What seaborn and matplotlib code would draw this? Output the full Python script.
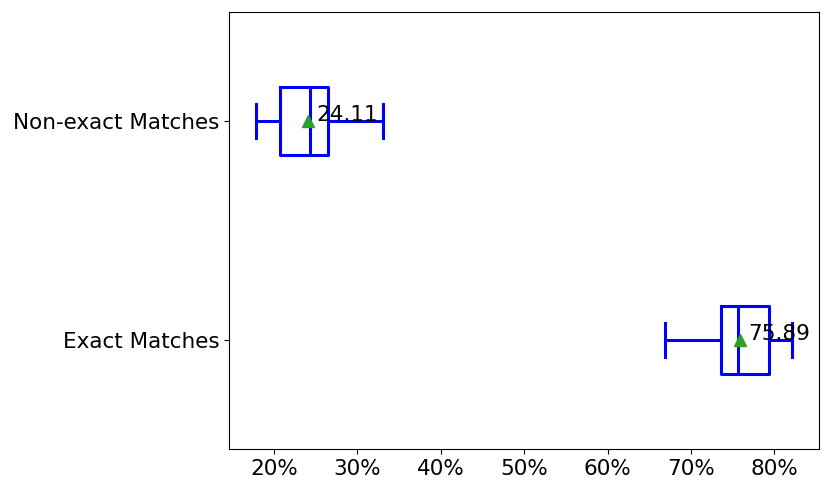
import matplotlib
matplotlib.use("Agg")
import matplotlib.pyplot as plt
from matplotlib.ticker import PercentFormatter
import seaborn as sns
import pandas as pd

# per-sample match shares (%)
categories = ["Non-exact Matches", "Exact Matches"]
non_exact = [17.85, 19.0, 20.7, 22.5, 24.35, 25.2, 26.45, 27.84, 33.1]
exact = [100 - v for v in non_exact]

df = pd.DataFrame({
    "share": non_exact + exact,
    "kind": [categories[0]] * len(non_exact) + [categories[1]] * len(exact),
})

fig, ax = plt.subplots(figsize=(8.3, 4.94), dpi=100)
fig.subplots_adjust(left=0.276, right=0.987, top=0.976, bottom=0.091)

sns.boxplot(data=df, x="share", y="kind", order=categories, ax=ax,
            orient="h", width=0.31, fill=False, color="blue",
            linewidth=2.2, whis=1.5, showmeans=True,
            meanprops=dict(marker="^", markerfacecolor="#2ca02c",
                           markeredgecolor="#2ca02c", markersize=9))

# label each mean next to its marker
means = df.groupby("kind")["share"].mean()
for i, cat in enumerate(categories):
    ax.annotate(f"{means[cat]:.2f}", xy=(means[cat], i),
                xytext=(6, 0), textcoords="offset points",
                fontsize=15.5, va="baseline", ha="left")

ax.xaxis.set_major_formatter(PercentFormatter(xmax=100, decimals=0))
ax.set_xlabel("")
ax.set_ylabel("")
ax.tick_params(labelsize=15.5)

fig.savefig("out.png", dpi=100)
